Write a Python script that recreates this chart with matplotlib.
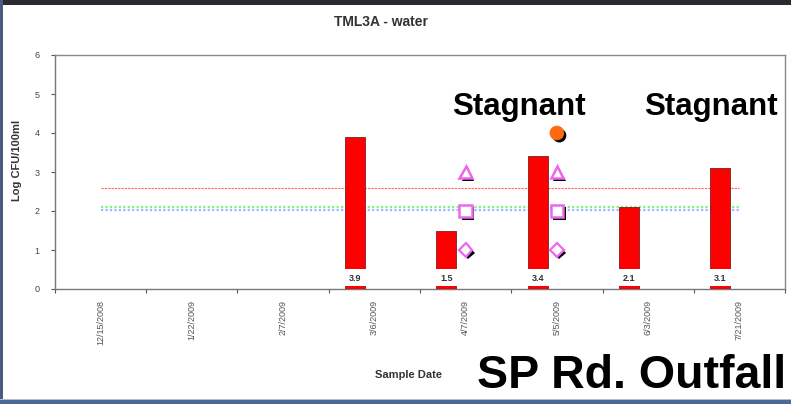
import matplotlib
matplotlib.use("Agg")
import matplotlib.pyplot as plt
import matplotlib.patheffects as pe
from matplotlib.patches import Rectangle
import numpy as np

plt.rcParams['font.family'] = ['Liberation Sans', 'DejaVu Sans']

dates = ["12/15/2008", "1/22/2009", "2/7/2009", "3/6/2009", "4/7/2009",
         "5/5/2009", "6/3/2009", "7/21/2009"]
bar_values = [np.nan, np.nan, np.nan, 3.9, 1.5, 3.4, 2.1, 3.1]
triangle_vals = [np.nan, np.nan, np.nan, np.nan, 3.0, 3.0, np.nan, np.nan]
square_vals = [np.nan, np.nan, np.nan, np.nan, 2.0, 2.0, np.nan, np.nan]
diamond_vals = [np.nan, np.nan, np.nan, np.nan, 1.0, 1.0, np.nan, np.nan]
circle_vals = [np.nan, np.nan, np.nan, np.nan, np.nan, 4.0, np.nan, np.nan]
red_line = [2.6] * 8
green_line = [2.1] * 8
blue_line = [2.03] * 8

W, H = 791, 404
fig = plt.figure(figsize=(W / 100, H / 100), dpi=100)
fig.patch.set_facecolor('white')

# frame bands
fig.patches.append(Rectangle((0, 1 - 5 / H), 1, 5 / H, transform=fig.transFigure,
                             facecolor='#2c2a30', edgecolor='none', zorder=0))
fig.patches.append(Rectangle((0, 0), 3 / W, 1, transform=fig.transFigure,
                             facecolor='#4a5a80', edgecolor='none', zorder=0))
fig.patches.append(Rectangle((0, 0), 1, 4 / H, transform=fig.transFigure,
                             facecolor='#4a6898', edgecolor='none', zorder=0))
fig.patches.append(Rectangle((0, 4 / H), 1, 1.5 / H, transform=fig.transFigure,
                             facecolor='#b8bcc4', edgecolor='none', zorder=0))

ax = fig.add_axes([55 / W, 1 - 289 / H, (785 - 55) / W, (289 - 55) / H])
x = np.arange(len(dates))
bar_off = -0.21
bar_w = 0.22

vals = np.array(bar_values, dtype=float)
ax.bar(x + bar_off, vals, width=bar_w, color='#ff0000', edgecolor='#7a2020',
       linewidth=0.6, zorder=3)
# white label backgrounds at bar bases
mask = ~np.isnan(vals)
ax.bar((x + bar_off)[mask], [0.43] * mask.sum(), bottom=0.08, width=bar_w + 0.02,
       color='white', edgecolor='none', zorder=4)
for xi, v in zip(x + bar_off, vals):
    if not np.isnan(v):
        ax.text(xi, 0.28, f"{v:.1f}", ha='center', va='center', fontsize=6.5,
                fontweight='bold', color='#333333', zorder=5)

ax.plot(x, red_line, color='#ff6060', linestyle=(0, (2, 1)), linewidth=0.8, zorder=2)
ax.plot(x, green_line, color='#80f080', linestyle=(0, (1, 1)), linewidth=1.6, zorder=2)
ax.plot(x, blue_line, color='#99bbff', linestyle=(0, (1, 1)), linewidth=1.6, zorder=2)

shadow = [pe.SimplePatchShadow(offset=(1.8, -1.8), shadow_rgbFace='black', alpha=1.0),
          pe.Normal()]
ax.plot(x, triangle_vals, linestyle='none', marker='^', markersize=9,
        markerfacecolor='white', markeredgecolor='#ee66ee', markeredgewidth=1.8,
        zorder=6, path_effects=shadow)
ax.plot(x, square_vals, linestyle='none', marker='s', markersize=9,
        markerfacecolor='white', markeredgecolor='#ee66ee', markeredgewidth=1.8,
        zorder=6, path_effects=shadow)
ax.plot(x, diamond_vals, linestyle='none', marker='D', markersize=7,
        markerfacecolor='white', markeredgecolor='#ee66ee', markeredgewidth=1.6,
        zorder=6, path_effects=shadow)
ax.plot(x, circle_vals, linestyle='none', marker='o', markersize=10,
        markerfacecolor='#ff6a10', markeredgecolor='#ff6a10', markeredgewidth=0.5,
        zorder=6, path_effects=shadow)

ax.set_xlim(-0.5, len(dates) - 0.5)
ax.set_ylim(0, 6)
ax.set_yticks(range(0, 7))
ax.tick_params(axis='y', labelsize=6.5, length=3, width=0.8, colors='#555555',
               labelcolor='#444444', pad=8)
ax.set_xticks(x)
ax.set_xticklabels(dates, rotation=90, fontsize=6.5, color='#555555')
ax.tick_params(axis='x', length=0, pad=8)
ax.set_xticks(np.arange(-0.5, len(dates) + 0.5, 1), minor=True)
ax.tick_params(axis='x', which='minor', length=3, width=0.8, colors='#555555')
for s in ax.spines.values():
    s.set_color('#888888')
    s.set_linewidth(1.0)
ax.spines['bottom'].set_color('#777777')
ax.spines['left'].set_color('#777777')

fig.text(381 / W, 1 - 22 / H, "TML3A - water", ha='center', va='center',
         fontsize=10, fontweight='bold', color='#333333')
fig.text(17 / W, 1 - 160 / H, "Log CFU/100ml", rotation=90, ha='center', va='center',
         fontsize=8, fontweight='bold', color='#333333')
fig.text(409 / W, 1 - 375 / H, "Sample Date", ha='center', va='center',
         fontsize=8, fontweight='bold', color='#333333')

fig.text(519 / W, 1 - 115 / H, "Stagnant", ha='center', va='baseline',
         fontsize=22.5, fontweight='bold', color='black')
fig.text(711 / W, 1 - 115 / H, "Stagnant", ha='center', va='baseline',
         fontsize=22.5, fontweight='bold', color='black')
fig.text(477 / W, 1 - 388 / H, "SP Rd. Outfall", ha='left', va='baseline',
         fontsize=33.5, fontweight='bold', color='black')

fig.savefig("out.png", dpi=100)
